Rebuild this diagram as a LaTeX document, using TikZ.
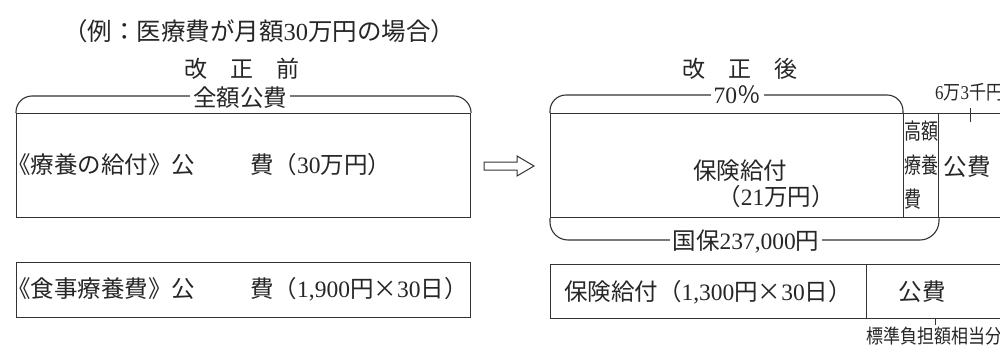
\documentclass[tikz,border=0pt]{standalone}
\usepackage{fontspec}
\usepackage{graphicx}
\setmainfont{Liberation Serif}
\newfontfamily\cjk{Noto Sans CJK JP}
\newcommand\D[1]{{\rmfamily #1}}
\newcommand\tall[1]{\scalebox{1}[1.3]{#1}}
\newcommand\tallish[1]{\scalebox{1}[1.15]{#1}}
\tikzset{
  ln/.style={line width=1.1pt, draw=black!80},
  txt/.style={font=\cjk\fontsize{23.5}{27}\selectfont, inner sep=0pt, text=black!85},
  big/.style={font=\cjk\fontsize{23}{27}\selectfont, inner sep=0pt, text=black!85},
  lab/.style={txt, fill=white, inner xsep=3pt, inner ysep=1pt},
  small/.style={font=\cjk\fontsize{17}{20}\selectfont, inner sep=0pt, text=black!85},
  boxnode/.style={ln, draw, rectangle, inner sep=0pt, anchor=north west},
}
\begin{document}
\begin{tikzpicture}[x=1pt,y=-1pt]
\useasboundingbox (0,0) rectangle (1000,348);
\clip (0,0) rectangle (1000,348);
\fill[white] (0,0) rectangle (1000,348);

% title
\node[big, font=\cjk\fontsize{24.5}{28}\selectfont] (title) at (259,31) {（例：医療費が月額\D{30}万円の場合）};

% ---- before ----
\node[big] (mae) at (242,69) {改　正　前};
\node[boxnode, minimum width=454pt, minimum height=104pt] (box1) at (16,113) {};
\node[boxnode, minimum width=454pt, minimum height=55pt] (box2) at (16,262) {};
\draw[ln, rounded corners=16pt] (box1.north west) -- (16,96) -- (470,96) -- (box1.north east);
\node[lab] (zengaku) at (240,98) {全額公費};
\node[txt, anchor=west] (t1) at (7,165) {《療養の給付》公\hspace{55pt}費（\D{30}万円）};
\node[txt, anchor=west] (t2) at (7,289) {《食事療養費》公\hspace{55pt}費（\D{1,900}円×\D{30}日）};

% arrow
\draw[line width=1pt, draw=black!80, line join=miter]
  (484,162) -- (517,162) -- (517,156) -- (534,166) -- (517,176) -- (517,170) -- (484,170) -- cycle;

% ---- after ----
\node[big] (ato) at (740,69) {改　正　後};
\node[boxnode, minimum width=470pt, minimum height=104pt] (box3) at (550,113) {};
\node[boxnode, minimum width=35pt, minimum height=104pt, align=left,
      font=\cjk\fontsize{17}{34}\selectfont, text=black!85] (kogaku) at (903,113)
      {\tall{高額}\\\tall{療養}\\\tall{費}};
\draw[ln, rounded corners=16pt] (box3.north west) -- (550,95) -- (903,95) -- (kogaku.north west);
\node[lab] (p70) at (737,95) {\D{70}％};
\draw[ln, rounded corners=18pt] (box3.south west) -- (550,240) -- (938,240) -- (kogaku.south east);
\node[lab] (kokuho) at (746,241) {国保\D{237,000}円};
\node[txt] (hoken) at (740,171) {保険給付};
\node[txt] (man21) at (776,197) {（\D{21}万円）};
\node[txt] (kohi1) at (967,167) {公費};
\node[small, anchor=west] (sen) at (935,92) {\tallish{\D{6}万\D{3}千円}};
\coordinate (tk1) at (970,108);
\coordinate (tk1b) at (970,122);
\draw[ln, line width=0.9pt] (tk1) -- (tk1b);

\node[boxnode, minimum width=316pt, minimum height=54pt] (lr1) at (550,264) {};
\node[boxnode, minimum width=150pt, minimum height=54pt] (lr2) at (866,264) {};
\node[txt] (hoken2) at (708,292) {保険給付（\D{1,300}円×\D{30}日）};
\node[txt] (kohi2) at (922,292) {公費};
\coordinate (tk2) at (935,318);
\coordinate (tk2b) at (935,325);
\draw[ln, line width=0.9pt] (tk2) -- (tk2b);
\node[small, anchor=west] (hyojun) at (866,336) {\tallish{標準負担額相当分}};
\end{tikzpicture}
\end{document}
